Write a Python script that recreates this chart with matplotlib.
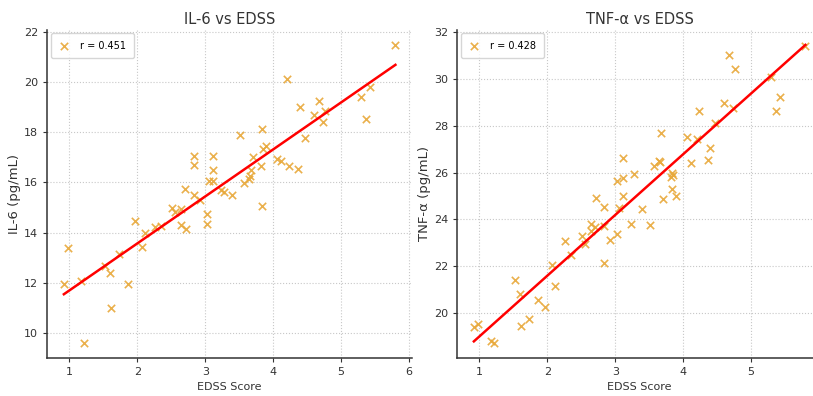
import matplotlib
matplotlib.use("Agg")
import matplotlib.pyplot as plt
import numpy as np

# EDSS scores shared by both panels
EDSS = [0.92, 0.98, 1.17, 1.22, 1.52, 1.60, 1.62, 1.73, 1.86, 1.96,
        2.07, 2.12, 2.26, 2.35, 2.51, 2.56, 2.65, 2.65, 2.70, 2.72,
        2.83, 2.83, 2.83, 2.93, 3.02, 3.03, 3.05, 3.12, 3.12, 3.12,
        3.24, 3.28, 3.40, 3.51, 3.57, 3.64, 3.66, 3.68, 3.70, 3.82,
        3.83, 3.84, 3.85, 3.90, 4.05, 4.12, 4.20, 4.24, 4.36, 4.40,
        4.47, 4.60, 4.67, 4.74, 4.77, 5.29, 5.36, 5.43, 5.80]

IL6 = [11.96, 13.37, 12.08, 9.62, 12.65, 12.41, 10.98, 13.16, 11.95, 14.48,
       13.44, 13.99, 14.22, 14.25, 14.96, 14.80, 14.94, 14.32, 15.74, 14.15,
       17.04, 16.67, 15.49, 15.31, 14.36, 14.74, 16.04, 17.04, 16.48, 16.04,
       15.71, 15.62, 15.49, 17.87, 15.98, 16.15, 16.27, 16.48, 17.02, 16.66,
       15.07, 18.13, 17.31, 17.44, 16.91, 16.86, 20.10, 16.63, 16.54, 18.99,
       17.75, 18.66, 19.25, 18.41, 18.83, 19.39, 18.54, 19.79, 21.47]

TNF = [19.39, 19.53, 18.78, 18.73, 21.41, 20.80, 19.42, 19.75, 20.56, 20.25,
       22.03, 21.13, 23.08, 22.48, 23.27, 22.94, 23.52, 23.79, 23.69, 24.93,
       24.52, 22.13, 23.72, 23.12, 25.63, 23.38, 24.50, 26.64, 25.02, 25.76,
       23.81, 25.94, 24.44, 23.78, 26.30, 26.51, 26.44, 27.68, 24.88, 25.83,
       25.30, 26.00, 25.90, 25.02, 27.54, 26.40, 27.45, 28.64, 26.54, 27.04,
       28.11, 28.97, 31.02, 28.75, 30.43, 30.08, 28.64, 29.22, 31.43]

LEFT_TICKS = [1, 2, 3, 4, 5, 6]
RIGHT_TICKS = [1, 2, 3, 4, 5]  # the 6 falls past the cropped edge

PANELS = [
    ("IL-6 vs EDSS", "IL-6 (pg/mL)", IL6, "r = 0.451", LEFT_TICKS),
    ("TNF-\u03b1 vs EDSS", "TNF-\u03b1 (pg/mL)", TNF, "r = 0.428", RIGHT_TICKS),
]

POSITIONS = [
    [47.3 / 813, 38.5 / 396, 364.7 / 813, 327.5 / 396],
    [457.3 / 813, 38.5 / 396, 364.7 / 813, 327.5 / 396],
]

MARKER_COLOR = "#E8A838"


def style_axis(ax):
    ax.grid(True, linestyle=":", color="#c8c8c8", linewidth=0.8)
    ax.set_axisbelow(True)
    for side in ("top", "right"):
        ax.spines[side].set_visible(False)
    for side in ("left", "bottom"):
        ax.spines[side].set_color("#333333")
        ax.spines[side].set_linewidth(1.1)
    ax.tick_params(labelsize=8, length=3, width=0.8, colors="#333333")


def main():
    fig = plt.figure(figsize=(8.13, 3.96), dpi=100)
    x = np.array(EDSS)
    for pos, (title, ylabel, values, label, ticks) in zip(POSITIONS, PANELS):
        ax = fig.add_axes(pos)
        y = np.array(values)
        ax.scatter(x, y, marker="x", color=MARKER_COLOR, s=28, linewidths=1.2,
                   alpha=0.9, label=label)
        slope, intercept = np.polyfit(x, y, 1)
        xs = np.array([x.min(), x.max()])
        ax.plot(xs, slope * xs + intercept, color="red", linewidth=1.8)
        ax.set_title(title, fontsize=10.5, color="#333333", pad=4.5)
        ax.set_xlabel("EDSS Score", fontsize=8, color="#333333")
        ax.set_ylabel(ylabel, fontsize=9.5, color="#333333", labelpad=2)
        ax.set_xticks(ticks)
        style_axis(ax)
        ax.legend(loc="upper left", fontsize=7, frameon=True, edgecolor="#cccccc",
                  handlelength=1.2, handletextpad=1.1, borderpad=0.75,
                  borderaxespad=0.35)
    fig.savefig("out.png", dpi=100)
    plt.close(fig)


if __name__ == "__main__":
    main()
